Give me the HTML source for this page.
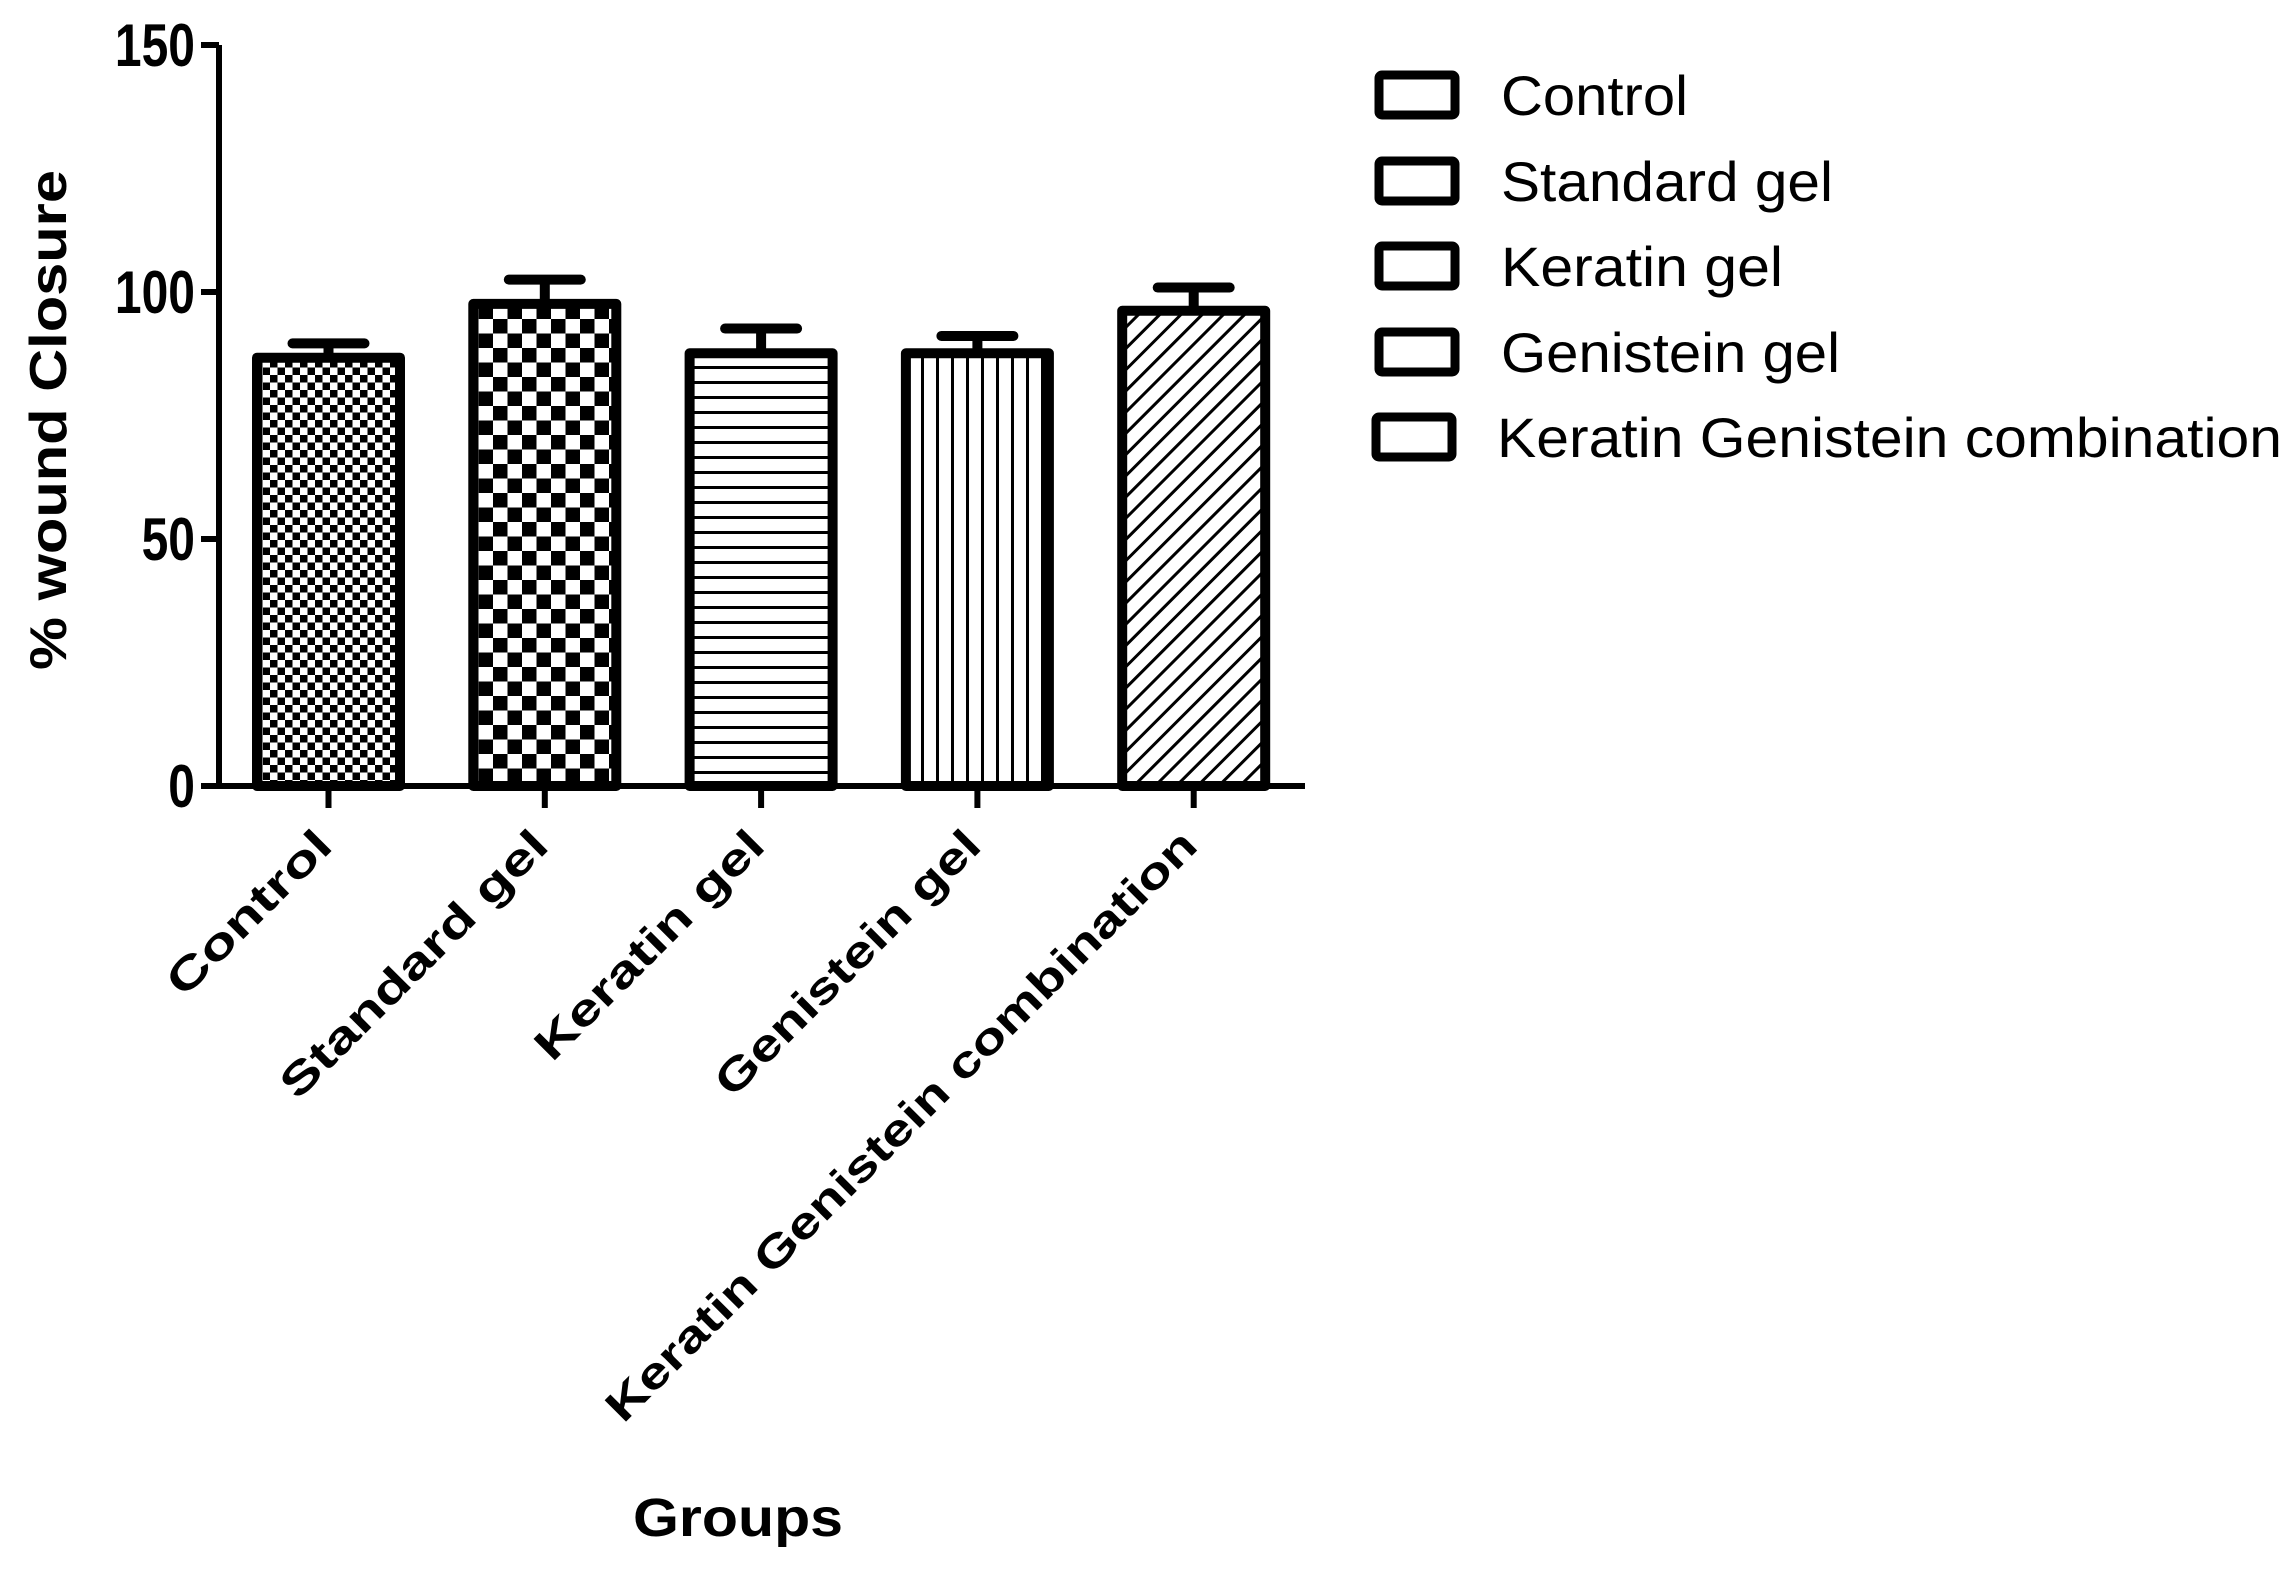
<!DOCTYPE html>
<html><head><meta charset="utf-8"><style>
html,body{margin:0;padding:0;background:#fff}
svg{display:block}
text{font-family:"Liberation Sans",Arial,sans-serif;fill:#000}
</style></head><body>
<svg id="chart" width="2291" height="1574" viewBox="0 0 2291 1574" xmlns="http://www.w3.org/2000/svg">
<defs>
<pattern id="p0" patternUnits="userSpaceOnUse" width="15" height="15"><rect width="15" height="15" fill="#fff"/><rect width="7.5" height="7.5" fill="#000"/><rect x="7.5" y="7.5" width="7.5" height="7.5" fill="#000"/></pattern>
<pattern id="p1" patternUnits="userSpaceOnUse" width="29" height="29"><rect width="29" height="29" fill="#fff"/><rect width="14.5" height="14.5" fill="#000"/><rect x="14.5" y="14.5" width="14.5" height="14.5" fill="#000"/></pattern>
<pattern id="p2" patternUnits="userSpaceOnUse" width="15" height="15"><rect width="15" height="15" fill="#fff"/><rect y="6" width="15" height="3" fill="#000"/></pattern>
<pattern id="p3" patternUnits="userSpaceOnUse" width="15" height="15"><rect width="15" height="15" fill="#fff"/><rect x="6" width="3" height="15" fill="#000"/></pattern>
<pattern id="p4" patternUnits="userSpaceOnUse" width="15" height="15" patternTransform="rotate(45)"><rect width="15" height="15" fill="#fff"/><rect x="6" width="3" height="15" fill="#000"/></pattern>
</defs>
<g id="plot"></g>
</svg>
<script>
const categories = ["Control","Standard gel","Keratin gel","Genistein gel","Keratin Genistein combination"];
const means = [86.7, 97.6, 87.6, 87.6, 96.2];
const errTops = [89.6, 102.5, 92.6, 91.1, 100.9];
const yTicks = [0, 50, 100, 150];
const labelLens = [213, 358, 304, 355, 815];
const legendLens = [187, 332, 282, 339, 785];

const NS = "http://www.w3.org/2000/svg";
const g = document.getElementById('plot');
const X0 = 219, XEND = 1305, Y0 = 786, YTOP = 45, YMAX = 150;
const y = v => Y0 - v / YMAX * (Y0 - YTOP);
const xc = i => 328.5 + i * 216.3;
const BW = 143;
function el(tag, attrs, parent) {
  const e = document.createElementNS(NS, tag);
  for (const k in attrs) e.setAttribute(k, attrs[k]);
  (parent || g).appendChild(e);
  return e;
}
categories.forEach((c, i) => {
  const cx = xc(i);
  const eb = el('path', {d: `M${cx} ${y(means[i])} V${y(errTops[i])} M${cx-36} ${y(errTops[i])} H${cx+36}`, stroke: '#000', 'stroke-width': 10, 'stroke-linecap': 'round', fill: 'none'});
  
  
  const r = el('rect', {x: cx - BW/2, y: y(means[i]), width: BW, height: Y0 - y(means[i]), fill: `url(#p${i})`, stroke: '#000', 'stroke-width': 10, 'stroke-linejoin': 'round'});
  
  
  const t = el('line', {x1: cx, x2: cx, y1: Y0, y2: Y0 + 22, stroke: '#000', 'stroke-width': 6});
  
  
  const lx = cx + 6, ly = 848;
  const lt = el('text', {x: lx, y: ly, 'text-anchor': 'end', 'font-size': 44, 'font-weight': 'bold', textLength: labelLens[i], lengthAdjust: 'spacingAndGlyphs', transform: `rotate(-45 ${lx} ${ly})`});
  lt.textContent = c;
  
  
});
const ax = el('path', {d: `M${X0} ${YTOP} V${Y0} H${XEND}`, stroke: '#000', 'stroke-width': 6, fill: 'none'});


yTicks.forEach(v => {
  const t = el('line', {x1: X0 - 18, x2: X0, y1: y(v), y2: y(v), stroke: '#000', 'stroke-width': 6});
  
  
  const tl = el('text', {x: X0 - 24, y: y(v) + 21, 'text-anchor': 'end', 'font-size': 60, 'font-weight': 'bold', transform: `translate(${X0-24} 0) scale(0.8 1) translate(${-(X0-24)} 0)`});
  tl.textContent = v;
  
  
});
const yt = el('text', {x: 0, y: 0, 'text-anchor': 'middle', 'font-size': 52, 'font-weight': 'bold', transform: 'translate(66 420) rotate(-90)', textLength: 500, lengthAdjust: 'spacingAndGlyphs'});
yt.textContent = '% wound Closure';


const xt = el('text', {x: 738, y: 1536, 'text-anchor': 'middle', 'font-size': 54, 'font-weight': 'bold', textLength: 210, lengthAdjust: 'spacingAndGlyphs'});
xt.textContent = 'Groups';


const legY = [95, 181, 266, 352, 437];
categories.forEach((c, i) => {
  const bx = i === 4 ? 1376 : 1379;
  const tx = i === 4 ? 1497 : 1501;
  const b = el('rect', {x: bx, y: legY[i] - 20, width: 76, height: 40, rx: 3, fill: '#fff', stroke: '#000', 'stroke-width': 9});
  
  
  const t = el('text', {x: tx, y: legY[i] + 20, 'font-size': 56, textLength: legendLens[i], lengthAdjust: 'spacingAndGlyphs'});
  t.textContent = c;
  
  
});
</script>
</body></html>
